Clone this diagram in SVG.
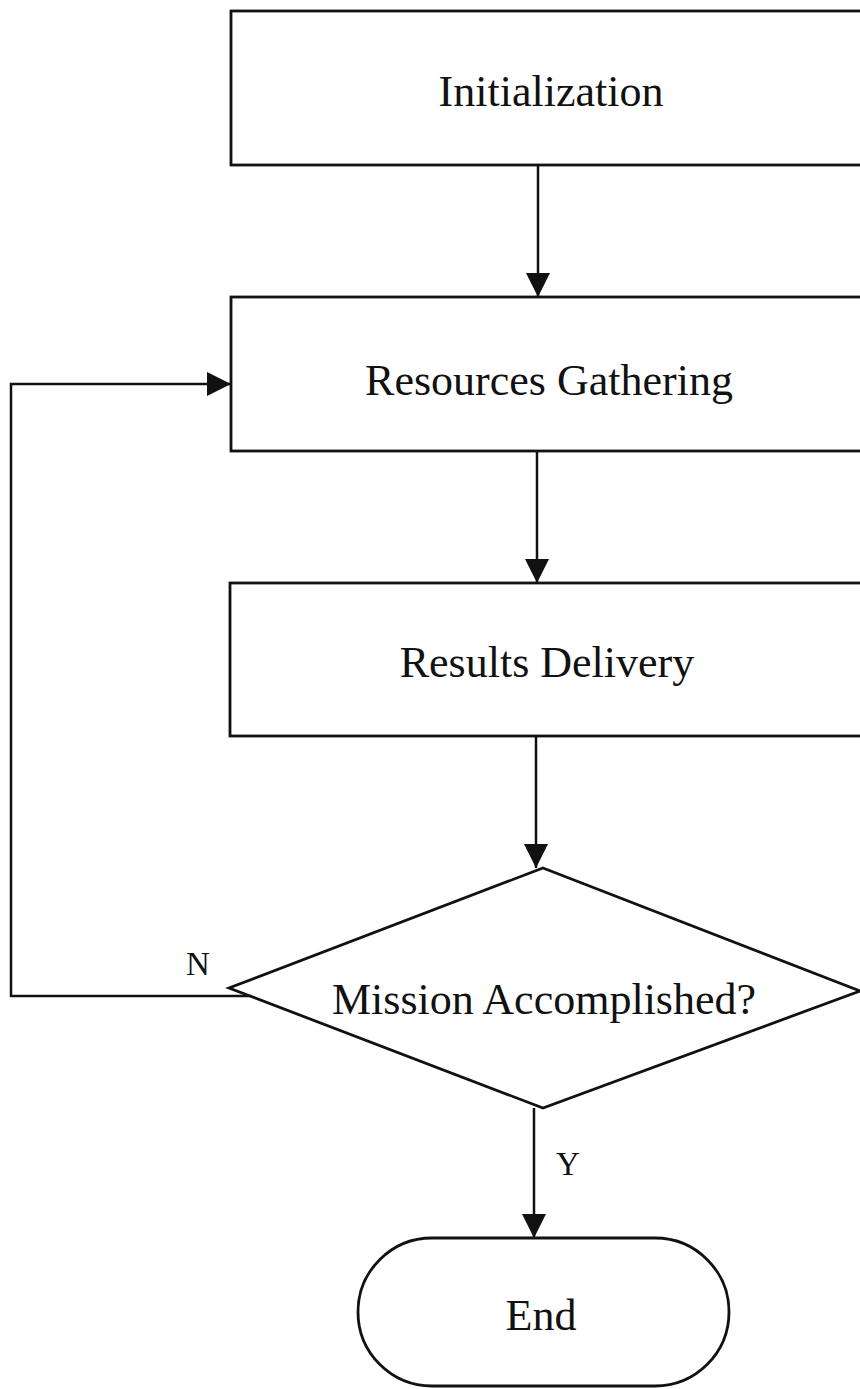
<svg xmlns="http://www.w3.org/2000/svg" width="860" height="1389" viewBox="0 0 860 1389">
  <style>
    .shape { fill: #ffffff; stroke: #111111; stroke-width: 2.8; }
    .wire { fill: none; stroke: #111111; stroke-width: 2.5; }
    .label { font-family: "Liberation Serif", "Times New Roman", serif; font-size: 44px; fill: #111111; text-anchor: middle; }
    .tag { font-family: "Liberation Serif", "Times New Roman", serif; font-size: 33px; fill: #111111; text-anchor: middle; }
  </style>
  <defs>
    <marker id="arrow" viewBox="0 0 24 24" refX="24" refY="12" markerWidth="24" markerHeight="24" markerUnits="userSpaceOnUse" orient="auto">
      <path d="M0,0 L24,12 L0,24 Z" fill="#111111"/>
    </marker>
  </defs>
  <rect width="860" height="1389" fill="#ffffff"/>

  <!-- connectors -->
  <g id="connectors">
    <line class="wire" x1="538" y1="165" x2="538" y2="297" marker-end="url(#arrow)"/>
    <line class="wire" x1="537" y1="451" x2="537" y2="583" marker-end="url(#arrow)"/>
    <line class="wire" x1="536" y1="736" x2="536" y2="868" marker-end="url(#arrow)"/>
    <line class="wire" x1="534" y1="1108" x2="534" y2="1238" marker-end="url(#arrow)"/>
    <polyline class="wire" points="250,996 11,996 11,384 231,384" marker-end="url(#arrow)"/>
    <text class="tag" x="198" y="975">N</text>
    <text class="tag" x="568" y="1175">Y</text>
  </g>

  <g id="node-init">
    <rect class="shape" x="231" y="11" width="660" height="154"/>
    <text class="label" x="551" y="106">Initialization</text>
  </g>

  <g id="node-gather">
    <rect class="shape" x="231" y="297" width="660" height="154"/>
    <text class="label" x="549" y="395">Resources Gathering</text>
  </g>

  <g id="node-deliver">
    <rect class="shape" x="230" y="583" width="660" height="153"/>
    <text class="label" x="547" y="677">Results Delivery</text>
  </g>

  <g id="node-decision">
    <polygon class="shape" points="543,868 860,991 543,1108 229,988"/>
    <text class="label" x="544" y="1014">Mission Accomplished?</text>
  </g>

  <g id="node-end">
    <rect class="shape" x="358" y="1238" width="371" height="148" rx="74" ry="74"/>
    <text class="label" x="541" y="1330">End</text>
  </g>
</svg>
